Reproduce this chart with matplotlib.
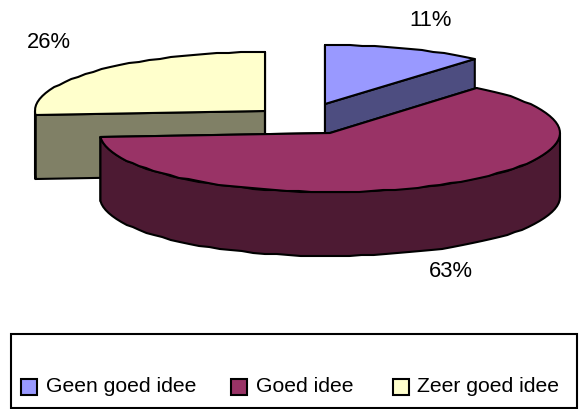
import numpy as np
import matplotlib
matplotlib.use('Agg')
import matplotlib.pyplot as plt
from matplotlib.patches import Polygon, Rectangle

categories = ['Geen goed idee', 'Goed idee', 'Zeer goed idee']
values = [11, 63, 26]
tops = ['#9999FF', '#993366', '#FFFFCC']
sides = ['#4D4D80', '#4D1A33', '#808066']

# exploded centre of each slice, in pixels
centers = [(325, 105), (330, 134), (265, 112)]
radii = [235, 230, 230]
ry = 59
depth = 64

plt.rcParams['font.family'] = ['Liberation Sans', 'DejaVu Sans']

fig = plt.figure(figsize=(5.86, 4.10), dpi=100)
ax = fig.add_axes([0, 0, 1, 1])
ax.set_xlim(0, 586)
ax.set_ylim(410, 0)
ax.axis('off')


def arc(i, a0, a1):
	# coarse steps and whole-pixel rounding give the slightly jagged edge of the original
	c = centers[i]
	n = max(int((a1 - a0) / 3), 1) + 1
	t = np.radians(np.linspace(a0, a1, n))
	return np.column_stack((c[0] + radii[i]*np.sin(t), np.round(c[1] - ry*np.cos(t))))


def drawSlice(i, a0, a1):
	c = centers[i]
	lw = 1.5
	# cut faces
	for a in (a0, a1):
		p = arc(i, a, a)[0]
		wall = [c, p, (p[0], p[1] + depth), (c[0], c[1] + depth)]
		ax.add_patch(Polygon(wall, fc=sides[i], ec='black', lw=lw, joinstyle='round'))
	# outer wall, only the front half shows
	w0 = max(a0, 90)
	w1 = min(a1, 270)
	if w1 > w0:
		edge = arc(i, w0, w1)
		low = edge[::-1] + [0, depth]
		ax.add_patch(Polygon(np.vstack((edge, low)), fc=sides[i], ec='black', lw=lw, joinstyle='round'))
	top = np.vstack(([c], arc(i, a0, a1)))
	ax.add_patch(Polygon(top, fc=tops[i], ec='black', lw=lw, joinstyle='round'))


angles = np.cumsum([0] + values) * 3.6
for i in (0, 2, 1):
	drawSlice(i, angles[i], angles[i + 1])

label_pos = [(431, 20), (451, 272), (49, 42)]
for v, pos in zip(values, label_pos):
	ax.text(pos[0], pos[1], '%d%%' % v, ha='center', va='center', fontsize=15.8)

# legend box
ax.add_patch(Rectangle((10.5, 335), 566, 74, fc='white', ec='black', lw=1.5))
swatch_x = [21, 231, 393]
text_x = [46, 256, 417]
for i, name in enumerate(categories):
	ax.add_patch(Rectangle((swatch_x[i], 380), 16, 16, fc=tops[i], ec='black', lw=1.5))
	ax.text(text_x[i], 392, name, ha='left', va='baseline', fontsize=15.2)

fig.savefig('out.png', dpi=100)
